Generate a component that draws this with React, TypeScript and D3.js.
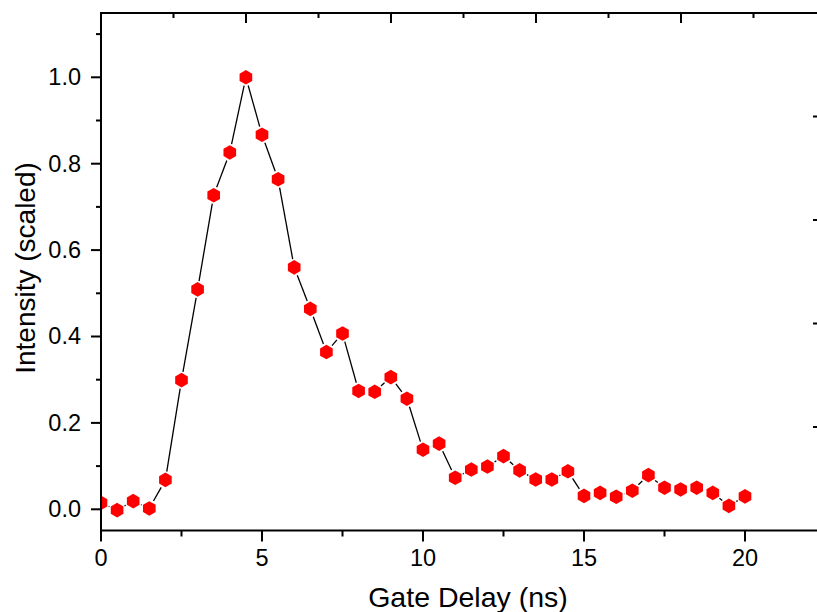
import React from "react";
import * as d3 from "d3";

const delays = [0, 0.5, 1, 1.5, 2, 2.5, 3, 3.5, 4, 4.5, 5, 5.5, 6, 6.5, 7, 7.5, 8, 8.5, 9, 9.5, 10, 10.5, 11, 11.5, 12, 12.5, 13, 13.5, 14, 14.5, 15, 15.5, 16, 16.5, 17, 17.5, 18, 18.5, 19, 19.5, 20];
const intensity = [0.015, -0.002, 0.019, 0.002, 0.068, 0.299, 0.509, 0.727, 0.826, 1.0, 0.867, 0.764, 0.560, 0.464, 0.364, 0.407, 0.274, 0.272, 0.306, 0.256, 0.138, 0.152, 0.073, 0.092, 0.099, 0.123, 0.090, 0.069, 0.069, 0.088, 0.031, 0.038, 0.029, 0.043, 0.079, 0.050, 0.046, 0.050, 0.038, 0.008, 0.030];

const xMajorTicks = [0, 5, 10, 15, 20];
const xMinorTicks = [2.5, 7.5, 12.5, 17.5];
const yMajorTicks = [0, 0.2, 0.4, 0.6, 0.8, 1.0];
const yMinorTicks = [0.1, 0.3, 0.5, 0.7, 0.9, 1.1];
const topTicks = [1, 2, 3, 4, 5, 6, 7, 8, 9];
const rightTicks = [1, 2, 3, 4];

const xTitle = "Gate Delay (ns)";
const yTitle = "Intensity (scaled)";

const W = 817;
const H = 612;
const left = 101;
const top = 13;
const bottom = 530.5;
const rightEdge = 819;

const x = d3.scaleLinear().domain([0, 20]).range([101, 745]);
const y = d3.scaleLinear().domain([0, 1]).range([509.3, 77.3]);
const xTop = d3.scaleLinear().domain([0, 10]).range([101, 826]);
const yRight = d3.scaleLinear().domain([0, 5]).range([bottom, top]);

const FONT = "'Liberation Sans', Arial, sans-serif";
const R = 7.3;

function hexPath(cx: number, cy: number, r: number) {
  const pts: [number, number][] = d3.range(6).map((i) => {
    const a = (Math.PI / 3) * i - Math.PI / 2;
    return [cx + r * Math.cos(a), cy + r * Math.sin(a)];
  });
  return "M" + pts.map((p) => p.join(",")).join("L") + "Z";
}

export default function App() {
  const pts = delays.map((d, i) => [x(d), y(intensity[i])] as [number, number]);
  const gap = R + 1.2;
  const segs: string[] = [];
  for (let i = 0; i < pts.length - 1; i++) {
    const [x1, y1] = pts[i];
    const [x2, y2] = pts[i + 1];
    const dx = x2 - x1, dy = y2 - y1;
    const len = Math.hypot(dx, dy);
    if (len <= 2 * gap) continue;
    const ux = dx / len, uy = dy / len;
    segs.push(`M${x1 + ux * gap},${y1 + uy * gap}L${x2 - ux * gap},${y2 - uy * gap}`);
  }

  return (
    <svg width={W} height={H} style={{ position: "absolute", left: 0, top: 0, background: "#fff" }} fontFamily={FONT}>
      <defs>
        <clipPath id="plotclip">
          <rect x={left} y={top} width={W - left} height={bottom - top} />
        </clipPath>
      </defs>
      <rect x={0} y={0} width={W} height={H} fill="#fff" />
      <g clipPath="url(#plotclip)">
        {segs.map((d, i) => (
          <path key={i} d={d} stroke="#000" strokeWidth={1.3} fill="none" />
        ))}
        {pts.map(([px, py], i) => (
          <path key={i} d={hexPath(px, py, R)} fill="#ff0000" stroke="none" />
        ))}
      </g>

      {/* left axis */}
      <line x1={left} x2={left} y1={top - 1} y2={bottom + 1} stroke="#000" strokeWidth={2} />
      {yMajorTicks.map((t) => (
        <g key={"ym" + t}>
          <line x1={left - 10} x2={left} y1={y(t)} y2={y(t)} stroke="#000" strokeWidth={2} />
          <text x={81} y={y(t) + 7.9} textAnchor="end" fontSize={23.5} fill="#000">
            {t.toFixed(1)}
          </text>
        </g>
      ))}
      {yMinorTicks.map((t) => (
        <line key={"yn" + t} x1={left - 5} x2={left} y1={y(t)} y2={y(t)} stroke="#000" strokeWidth={2} />
      ))}

      {/* bottom axis */}
      <line x1={left - 1} x2={W} y1={bottom} y2={bottom} stroke="#000" strokeWidth={2} />
      {xMajorTicks.map((t) => (
        <g key={"xm" + t}>
          <line x1={x(t)} x2={x(t)} y1={bottom} y2={bottom + 11} stroke="#000" strokeWidth={2} />
          <text x={x(t)} y={566} textAnchor="middle" fontSize={23.5} fill="#000">
            {t}
          </text>
        </g>
      ))}
      {xMinorTicks.map((t) => (
        <line key={"xn" + t} x1={x(t)} x2={x(t)} y1={bottom} y2={bottom + 6} stroke="#000" strokeWidth={2} />
      ))}

      {/* top axis */}
      <line x1={left - 1} x2={W} y1={top} y2={top} stroke="#000" strokeWidth={2} />
      {topTicks.map((t) => (
        <line key={"tt" + t} x1={xTop(t)} x2={xTop(t)} y1={top} y2={top + (t % 2 === 0 ? 10 : 5)} stroke="#000" strokeWidth={2} />
      ))}

      {/* right axis (mostly off-canvas) */}
      <line x1={rightEdge} x2={rightEdge} y1={top} y2={bottom} stroke="#000" strokeWidth={2} />
      {rightTicks.map((t) => (
        <line key={"rt" + t} x1={rightEdge - 6} x2={rightEdge} y1={yRight(t)} y2={yRight(t)} stroke="#000" strokeWidth={2} />
      ))}

      {/* titles */}
      <text x={468} y={607} textAnchor="middle" fontSize={28.5} fill="#000">
        {xTitle}
      </text>
      <text transform={`translate(35,268) rotate(-90)`} textAnchor="middle" fontSize={28} fill="#000">
        {yTitle}
      </text>
    </svg>
  );
}
